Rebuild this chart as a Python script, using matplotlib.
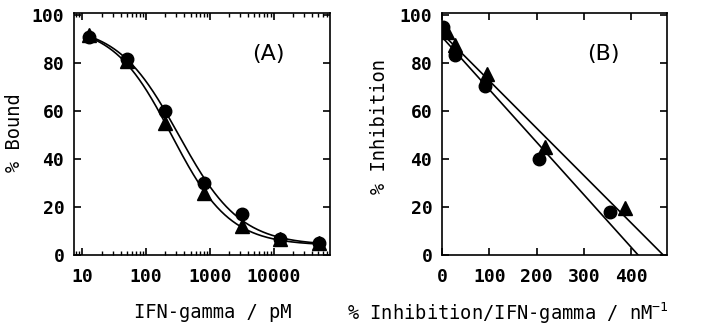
import numpy as np
import matplotlib
matplotlib.use("Agg")
import matplotlib.pyplot as plt
from matplotlib.ticker import LogLocator, FixedLocator, NullFormatter

plt.rcParams['font.family'] = ['DejaVu Sans Mono']
plt.rcParams['mathtext.fontset'] = 'custom'
plt.rcParams['mathtext.rm'] = 'DejaVu Sans Mono'
plt.rcParams['mathtext.it'] = 'DejaVu Sans Mono'

# ---------------- data: panel A ----------------
conc_pM = [12.5, 50, 200, 800, 3200, 12800, 51200]
bound_circle = [91, 82, 60, 30, 17, 6.8, 5.2]
bound_triangle = [92, 81, 55, 26, 12, 6.8, 5.2]
# four-parameter logistic fit parameters (top, bottom, EC50, Hill)
fit_circle_A = (96, 4, 327, 0.9)
fit_triangle_A = (96, 4, 252, 0.95)

# ---------------- data: panel B ----------------
ratio_circle = [3, 27, 90, 205, 354]
inhib_circle = [95, 83.5, 70.5, 40, 18]
ratio_triangle = [10, 27, 94, 217, 386]
inhib_triangle = [93, 87.5, 75.5, 45, 19.5]
# linear fit: (y-intercept, x-intercept)
fit_circle_B = (91, 414)
fit_triangle_B = (92.5, 467)

xticksA = [10, 100, 1000, 10000]
xticklabelsA = ['10', '100', '1000', '10000']
yticks = [0, 20, 40, 60, 80, 100]
xticksB = [0, 100, 200, 300, 400]

W, H = 706, 328
fig = plt.figure(figsize=(W / 100, H / 100), dpi=100)
axA = fig.add_axes([74 / W, 1 - 255 / H, 256 / W, 242 / H])
axB = fig.add_axes([442 / W, 1 - 255 / H, 225 / W, 242 / H])

tickfont = dict(family='DejaVu Sans Mono', weight='bold', size=13)
lw = 1.2
ms = 9

def logistic(x, p):
    top, bottom, ec50, h = p
    return bottom + (top - bottom) / (1 + (x / ec50) ** h)

# Panel A
xs = np.logspace(np.log10(conc_pM[0]), np.log10(conc_pM[-1]), 300)
axA.plot(xs, logistic(xs, fit_circle_A), color='black', lw=lw)
axA.plot(xs, logistic(xs, fit_triangle_A), color='black', lw=lw)
axA.plot(conc_pM, bound_circle, 'o', color='black', ms=ms, mec='black')
axA.plot(conc_pM, bound_triangle, '^', color='black', ms=ms + 1, mec='black')
axA.set_xscale('log')
axA.set_xlim(7.4, 77000)
axA.set_ylim(0, 101)
axA.xaxis.set_major_locator(FixedLocator(xticksA))
axA.set_xticklabels(xticklabelsA, **tickfont)
axA.xaxis.set_minor_locator(LogLocator(base=10, subs=np.arange(2, 10)))
axA.xaxis.set_minor_formatter(NullFormatter())
axA.set_yticks(yticks)
axA.set_yticklabels([str(v) for v in yticks], **tickfont)
axA.text(0.76, 0.83, '(A)', transform=axA.transAxes, ha='center', va='center',
         fontsize=16, family='DejaVu Sans')

# Panel B
for (b0, x0) in (fit_circle_B, fit_triangle_B):
    xl = np.array([0, x0])
    axB.plot(xl, b0 - b0 / x0 * xl, color='black', lw=lw)
axB.plot(ratio_circle, inhib_circle, 'o', color='black', ms=ms, mec='black')
axB.plot(ratio_triangle, inhib_triangle, '^', color='black', ms=ms + 1, mec='black')
axB.set_xlim(0, 475)
axB.set_ylim(0, 101)
axB.set_xticks(xticksB)
axB.set_xticklabels([str(v) for v in xticksB], **tickfont)
axB.set_yticks(yticks)
axB.set_yticklabels([str(v) for v in yticks], **tickfont)
axB.text(0.716, 0.83, '(B)', transform=axB.transAxes, ha='center', va='center',
         fontsize=16, family='DejaVu Sans')

for ax in (axA, axB):
    for s in ax.spines.values():
        s.set_linewidth(1.2)
    ax.tick_params(which='major', direction='in', top=True, right=True,
                   length=5, width=1.2, pad=7)
    ax.tick_params(which='minor', direction='in', top=True, right=True,
                   length=3, width=1.0)
    ax.tick_params(axis='x', which='major', pad=9)

labfont = dict(family='DejaVu Sans Mono', size=13.5)
fig.text(213 / W, 1 - 313 / H, 'IFN-gamma / pM', ha='center', va='center', **labfont)
fig.text(347 / W, 1 - 313 / H, '% Inhibition/IFN-gamma / nM$^{-1}$', ha='left',
         va='center', **labfont)
fig.text(15 / W, 1 - 133 / H, '% Bound', rotation=90, ha='center', va='center', **labfont)
fig.text(380 / W, 1 - 127 / H, '% Inhibition', rotation=90, ha='center', va='center',
         **labfont)

fig.savefig('out.png', dpi=100)
